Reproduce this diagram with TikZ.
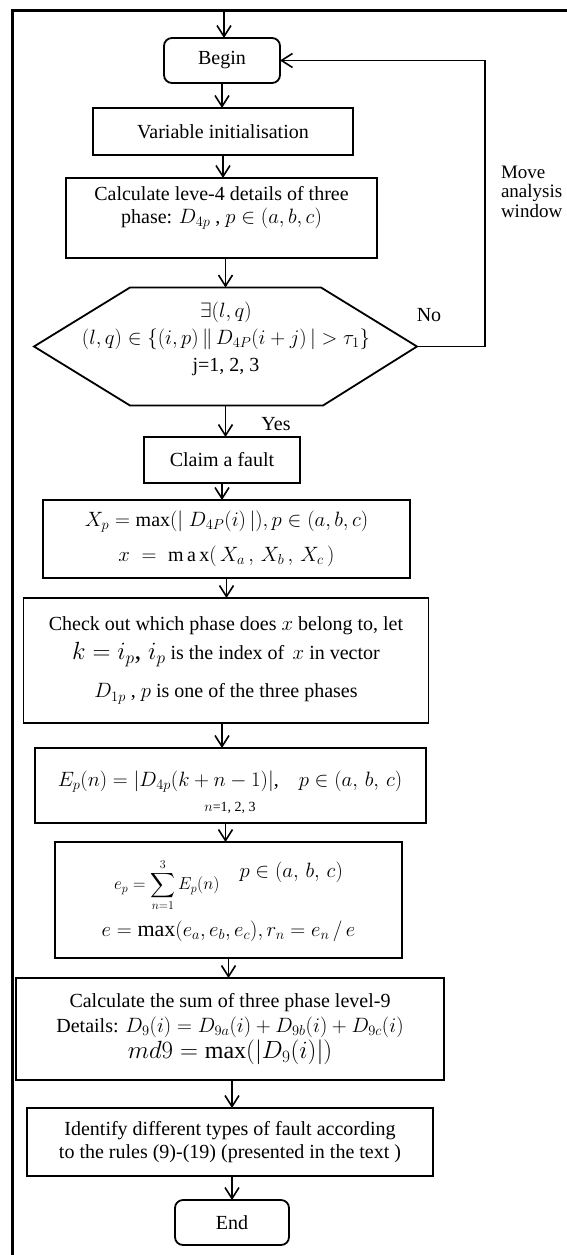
\documentclass[tikz,border=0pt]{standalone}
\usepackage{amsmath}
\usepackage{fontspec}
\setmainfont{Liberation Serif}
\usetikzlibrary{arrows.meta}
\newcommand\mainsz{\fontsize{20}{23}\selectfont}
\tikzset{
  box/.style={draw, line width=1.8pt, outer sep=0pt, inner sep=2pt, align=center, font=\mainsz},
  rbox/.style={box, rounded corners=8pt},
  txt/.style={inner sep=0pt, outer sep=0pt, align=center, font=\mainsz},
  arr/.style={line width=1.6pt, -{Straight Barb[length=11pt,width=14pt,line width=1.6pt]}},
  frame/.style={line width=2.6pt, line join=miter},
}
\begin{document}
\begin{tikzpicture}[x=1pt,y=-1pt]
\useasboundingbox[fill=white] (0,0) rectangle (566,1255);
\draw[frame] (12.5,1256) -- (12.5,10.5) -- (567,10.5);

% nodes
\node[rbox, minimum width=116, minimum height=45] (begin) at (222,60.5) {Begin};
\node[box, minimum width=260, minimum height=47] (var) at (223,131.5) {Variable initialisation};
\node[box, minimum width=311, minimum height=80] (calc) at (221.5,218) {};
\node[txt] (calctext) at (221.5,208) {Calculate leve-4 details of three\\phase: $D_{4p}$ ,\ $p\in(a,b,c)$};
\node[minimum width=383, minimum height=118, inner sep=0pt, outer sep=0pt] (hex) at (225.5,346.5) {};
\draw[line width=1.8pt, line join=miter] (hex.west) -- ([xshift=96pt]hex.north west) -- ([xshift=-96pt]hex.north east) -- (hex.east) -- ([xshift=-94pt]hex.south east) -- ([xshift=96pt]hex.south west) -- cycle;
\node[txt] (hextext) at (226,339) {$\exists(l,q)$\\[4pt]$(l,q)\in\{(i,p)\,\|\,D_{4P}(i+j)\,|>\tau_1\}$\\[4pt]j=1, 2, 3};
\node[box, minimum width=156, minimum height=46] (claim) at (222,460) {Claim a fault};
\node[box, minimum width=367, minimum height=78] (xbox) at (226.5,539) {$X_p=\max(|\;D_{4P}(i)\,|), p\in(a,b,c)$\\[12pt]$x\;=\;\mathrm{m\,a\,x}(\,X_a\,,\,X_b\,,\,X_c\,)$};
\node[box, minimum width=405, minimum height=125] (check) at (226,660.5) {Check out which phase does $x$ belong to, let\\[6pt]{\fontsize{27}{28}\selectfont$k=i_p$, $i_p$} is the index of\ \,$x$ in vector\\[15pt]$D_{1p}$ , $p$ is one of the three phases};
\node[box, minimum width=391, minimum height=75] (ebox) at (230.5,785.5) {};
\node[txt] (etext) at (230,792) {$E_p(n)=|D_{4p}(k+n-1)|$,\quad $p\in(a,\,b,\,c)$\\[2pt]{\fontsize{14}{16}\selectfont $n$=1, 2, 3}};
\node[box, minimum width=347, minimum height=116] (esum) at (228.5,900) {{\fontsize{18}{20}\selectfont$\displaystyle e_p=\sum_{n=1}^{3}E_p(n)$}\quad\raisebox{12pt}{$p\in(a,\,b,\,c)$}\\[8pt]{\fontsize{22}{25}\selectfont $e=\max(e_a,e_b,e_c),r_n=e_n\,/\,e$}};
\node[box, minimum width=428, minimum height=102] (sumbox) at (230,1029) {Calculate the sum of three phase level-9\\[2pt]Details: $D_9(i)=D_{9a}(i)+D_{9b}(i)+D_{9c}(i)$\\[2pt]{\fontsize{24}{26}\selectfont $md9=\max(|D_9(i)|)$}};
\node[box, minimum width=406, minimum height=68] (ident) at (230,1142) {Identify different types of fault according\\to the rules (9)-(19) (presented in the text )};
\node[rbox, minimum width=114, minimum height=45] (endn) at (232,1222.5) {End};

% labels
\node[txt] (no) at (429,315) {No};
\node[txt] (yes) at (276,424) {Yes};
\node[txt, align=left, anchor=north west, font=\fontsize{19}{19.5}\selectfont] (move) at (501,166) {Move\\analysis\\window};

% connectors
\coordinate (top) at (224,10.5);
\draw[arr] (top) -- (top |- begin.north);
\draw[arr] (begin.south) -- (begin.south |- var.north);
\draw[arr] (var.south) -- (var.south |- calc.north);
\draw[arr] (calc.south -| hex.north) -- (hex.north);
\draw[arr] (hex.south) -- (hex.south |- claim.north);
\draw[arr] (claim.south) -- (claim.south |- xbox.north);
\draw[arr] (xbox.south) -- (xbox.south |- check.north);
\draw[arr] (check.south -| claim.south) -- (claim.south |- ebox.north);
\draw[arr] (ebox.south -| hex.south) -- (hex.south |- esum.north);
\draw[arr] (esum.south) -- (esum.south |- sumbox.north);
\draw[arr] (sumbox.south -| endn.north) -- (endn.north |- ident.north);
\draw[arr] (ident.south -| endn.north) -- (endn.north);
\coordinate (loopc) at (485,346.5);
\draw[line width=1.6pt, line join=miter, -{Straight Barb[length=11pt,width=14pt,line width=1.6pt]}] (hex.east) -- (loopc) |- (begin.east);
\end{tikzpicture}
\end{document}
